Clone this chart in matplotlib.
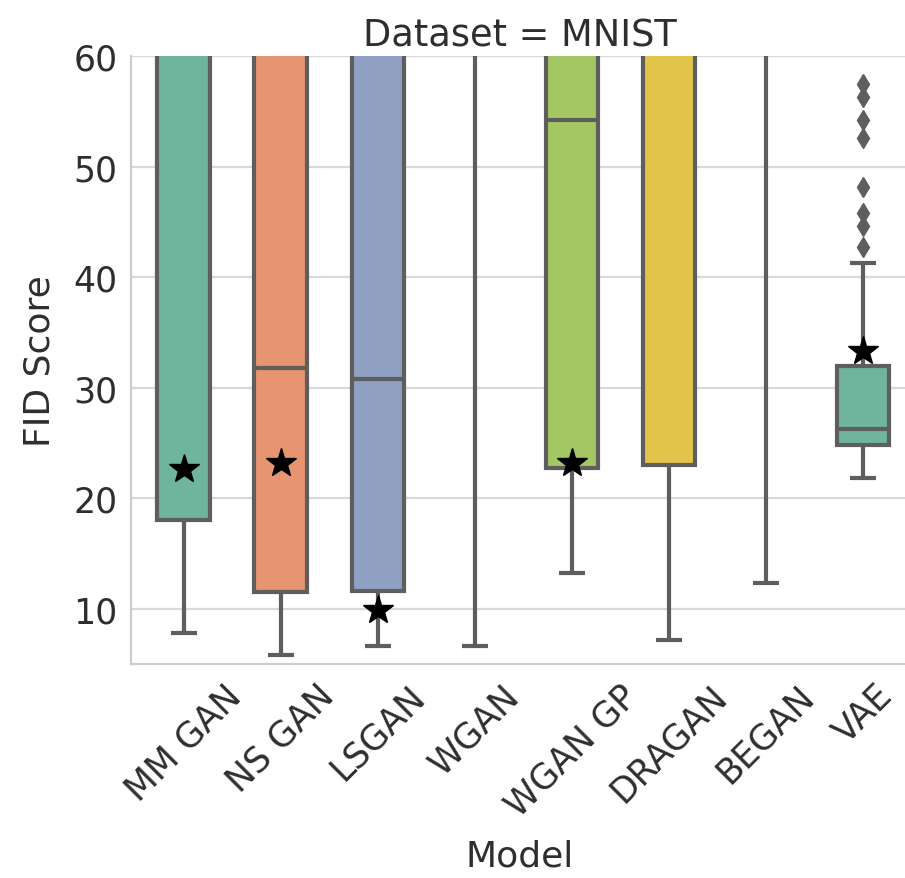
import matplotlib
matplotlib.use("Agg")
import matplotlib.pyplot as plt  # noqa: E402

# per-model box stats (values above 60 are clipped by the axis)
models = ["MM GAN", "NS GAN", "LSGAN", "WGAN", "WGAN GP", "DRAGAN", "BEGAN", "VAE"]
q1 = [18.0, 11.5, 11.6, 80.0, 22.7, 23.0, 90.0, 24.8]
median = [75.0, 31.8, 30.8, 150.0, 54.2, 90.0, 200.0, 26.3]
q3 = [120.0, 110.0, 100.0, 250.0, 95.0, 150.0, 300.0, 32.0]
whislo = [7.8, 5.8, 6.6, 6.6, 13.2, 7.2, 12.3, 21.8]
whishi = [200.0, 200.0, 200.0, 400.0, 150.0, 250.0, 400.0, 41.3]
vae_fliers = [42.7, 44.6, 45.8, 48.2, 52.6, 54.2, 56.3, 57.5]
best = {"MM GAN": 22.6, "NS GAN": 23.2, "LSGAN": 9.9, "WGAN GP": 23.2, "VAE": 33.3}

colors = ["#6fb59e", "#e79470", "#8fa0c3", "#dd8ebc", "#a4c663", "#e3c44b", "#dcc49e", "#6fb59e"]
edge = "#5e5e5e"
text_c = "#2e2e2e"

plt.rcParams["font.family"] = "DejaVu Sans"
fig = plt.figure(figsize=(9.05, 8.79), dpi=100)
ax = fig.add_axes([0.145, 0.2435, 0.858, 0.6915])

stats = []
for i, m in enumerate(models):
    stats.append({"label": m, "q1": q1[i], "med": median[i], "q3": q3[i],
                  "whislo": whislo[i], "whishi": whishi[i],
                  "fliers": vae_fliers if m == "VAE" else []})

lw = 3.0
bp = ax.bxp(stats, positions=range(len(models)), widths=0.54, patch_artist=True,
            boxprops=dict(edgecolor=edge, linewidth=lw),
            medianprops=dict(color=edge, linewidth=lw),
            whiskerprops=dict(color=edge, linewidth=lw),
            capprops=dict(color=edge, linewidth=lw),
            capwidths=0.27,
            flierprops=dict(marker="d", markerfacecolor=edge, markeredgecolor=edge, markersize=10))
for patch, c in zip(bp["boxes"], colors):
    patch.set_facecolor(c)
for w in bp["whiskers"] + bp["caps"] + bp["medians"]:
    w.set_solid_capstyle("butt")

for m, v in best.items():
    ax.plot(models.index(m), v, marker="*", color="black", markersize=22, linestyle="none", zorder=5)

ax.set_ylim(5, 60)
ax.set_xlim(-0.54, 7.46)
ax.set_yticks([10, 20, 30, 40, 50, 60])
ax.yaxis.grid(True, color="#d9d9d9", linewidth=1.6)
ax.xaxis.grid(False)
ax.set_axisbelow(True)
for s in ["top", "right"]:
    ax.spines[s].set_visible(False)
for s in ["left", "bottom"]:
    ax.spines[s].set_color("#cccccc")
    ax.spines[s].set_linewidth(1.6)
ax.tick_params(length=0, labelsize=25, colors=text_c, pad=10)
ax.set_xticks(range(len(models)))
ax.set_xticklabels(models, rotation=45)
ax.set_xlabel("Model", fontsize=26, color=text_c, labelpad=12)
ax.set_ylabel("FID Score", fontsize=26, color=text_c, labelpad=12)
ax.set_title("Dataset = MNIST", fontsize=26.5, color=text_c, pad=8)

fig.savefig("out.png", dpi=100)
